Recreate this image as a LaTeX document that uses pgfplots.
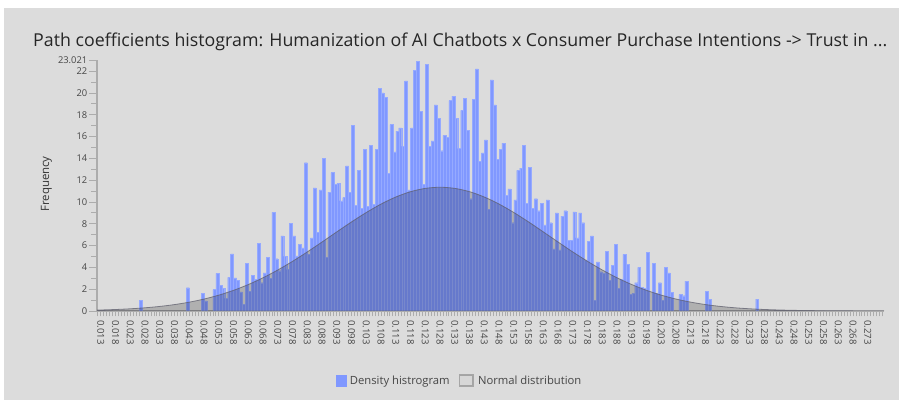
\documentclass[border=0pt]{standalone}
\usepackage{graphicx}
\usepackage{pgfplots}
\pgfplotsset{compat=1.18}
\usepackage{fontspec}
\setmainfont{Open Sans}
\definecolor{bg}{RGB}{220,220,220}
\definecolor{barblue}{RGB}{128,152,255}
\definecolor{baredge}{RGB}{150,170,255}
\definecolor{axgray}{RGB}{172,172,172}
\definecolor{txt}{RGB}{70,70,70}
\definecolor{curve}{RGB}{95,95,110}
\begin{document}
\begin{tikzpicture}[x=1bp,y=1bp]
\useasboundingbox (0bp,0bp) rectangle (903bp,409bp);
\fill[white] (0bp,0bp) rectangle (903bp,409bp);
\fill[bg] (4bp,9bp) rectangle (899bp,401bp);
\node[anchor=base west, inner sep=0, text=black!85] at (33bp,362bp) {\resizebox{854bp}{!}{\fontsize{17}{17}\selectfont Path coefficients histogram: Humanization of AI Chatbots x Consumer Purchase Intentions -> Trust in ...}};
\node[rotate=90, text=black!80, font=\fontsize{11.5}{11.5}\selectfont] at (46.5bp,225bp) {Frequency};
\begin{axis}[
  at={(97bp,98bp)}, anchor=south west, scale only axis,
  width=787bp, height=251bp,
  xmin=0.01171, xmax=0.2785, ymin=0, ymax=23.021,
  axis x line=bottom, axis y line=left,
  axis line style={-, draw=axgray},
  every outer x axis line/.append style={-},
  every outer y axis line/.append style={-},
  x axis line style={line width=2.5bp},
  y axis line style={line width=1.5bp},
  tick align=outside,
  major tick length=8bp, minor tick length=5.5bp,
  tick style={draw=axgray, line width=0.8bp},
  major x tick style={draw=none},
  xtick={0.013,0.018,0.023,0.028,0.033,0.038,0.043,0.048,0.053,0.058,0.063,0.068,0.073,0.078,0.083,0.088,0.093,0.098,0.103,0.108,0.113,0.118,0.123,0.128,0.133,0.138,0.143,0.148,0.153,0.158,0.163,0.168,0.173,0.178,0.183,0.188,0.193,0.198,0.203,0.208,0.213,0.218,0.223,0.228,0.233,0.238,0.243,0.248,0.253,0.258,0.263,0.268,0.273},
  xticklabels={0.013,0.018,0.023,0.028,0.033,0.038,0.043,0.048,0.053,0.058,0.063,0.068,0.073,0.078,0.083,0.088,0.093,0.098,0.103,0.108,0.113,0.118,0.123,0.128,0.133,0.138,0.143,0.148,0.153,0.158,0.163,0.168,0.173,0.178,0.183,0.188,0.193,0.198,0.203,0.208,0.213,0.218,0.223,0.228,0.233,0.238,0.243,0.248,0.253,0.258,0.263,0.268,0.273},
  minor xtick={0.012,0.013,...,0.2775},
  xticklabel style={rotate=-90, anchor=west, inner sep=1bp, font=\fontsize{9.6}{9.6}\selectfont, text=txt},
  ytick={0,2,4,6,8,10,12,14,16,18,20,22,23.021},
  yticklabels={0,2,4,6,8,10,12,14,16,18,20,22,23.021},
  minor ytick={1,3,5,7,9,11,13,15,17,19,21},
  yticklabel style={font=\fontsize{9.4}{9.4}\selectfont, text=txt, inner sep=1.5bp},
  legend style={at={(0.4606,-0.277)}, anchor=center, draw=none, fill=none,
    legend columns=2, font=\fontsize{11.3}{11.3}\selectfont, text=txt,
    /tikz/every even column/.append style={column sep=7bp}},
  legend cell align=left,
]
\addplot[ybar, bar width=0.001, fill=barblue, draw=baredge, line width=0.3bp,
  legend image code/.code={\fill[barblue] (0bp,-5.5bp) rectangle (10bp,5.5bp); \path (12bp,0bp);}]
table {
x y
0.0265 0.95
0.0425 2.14
0.0475 1.65
0.0485 0.92
0.0515 1.96
0.0525 3.46
0.0535 2.38
0.0545 2.1
0.0555 1.16
0.0565 3.09
0.0575 5.23
0.0585 3.03
0.0595 2.8
0.0605 1.75
0.0615 0.64
0.0625 4.37
0.0635 1.8
0.0645 3.3
0.0655 2.9
0.0665 6.2
0.0675 2.6
0.0685 3.5
0.0695 4.9
0.0705 3.0
0.0715 9.05
0.0725 4.8
0.0735 3.7
0.0745 6.9
0.0755 5.0
0.0765 3.8
0.0775 8.07
0.0785 6.9
0.0795 5.05
0.0805 6.1
0.0815 5.8
0.0825 13.6
0.0835 5.2
0.0845 6.7
0.0855 11.3
0.0865 7.2
0.0875 11.1
0.0885 14.0
0.0895 4.9
0.0905 10.9
0.0915 12.7
0.0925 11.6
0.0935 11.7
0.0945 10.1
0.0955 10.4
0.0965 13.3
0.0975 10.9
0.0985 17.0
0.0995 9.7
0.1005 12.9
0.1015 9.4
0.1025 14.8
0.1035 9.6
0.1045 15.2
0.1055 9.8
0.1065 14.8
0.1075 20.4
0.1085 20.0
0.1095 19.6
0.1105 12.6
0.1115 17.1
0.1125 14.6
0.1135 16.5
0.1145 16.8
0.1155 15.1
0.1165 21.1
0.1175 11.1
0.1185 16.8
0.1195 22.1
0.1205 22.9
0.1215 18.3
0.1225 11.6
0.1235 22.6
0.1245 15.1
0.1255 15.6
0.1265 18.9
0.1275 17.7
0.1285 14.7
0.1295 16.1
0.1305 15.9
0.1315 19.3
0.1325 19.7
0.1335 17.7
0.1345 14.9
0.1355 18.4
0.1365 19.5
0.1375 16.6
0.1385 10.3
0.1395 19.4
0.1405 22.2
0.1415 13.7
0.1425 14.5
0.1435 15.7
0.1445 9.3
0.1455 21.2
0.1465 18.9
0.1475 13.9
0.1485 14.8
0.1495 15.4
0.1505 10.6
0.1515 11.2
0.1525 8.1
0.1535 10.2
0.1545 12.9
0.1555 13.1
0.1565 15.2
0.1575 9.9
0.1585 13.2
0.1595 9.4
0.1605 10.3
0.1615 9.2
0.1625 9.9
0.1635 7.9
0.1645 10.2
0.1655 8.1
0.1665 5.7
0.1675 9.0
0.1685 5.6
0.1695 8.7
0.1705 9.2
0.1715 6.5
0.1725 6.5
0.1735 9.1
0.1745 6.7
0.1755 9.0
0.1765 8.1
0.1775 4.7
0.1785 6.4
0.1795 6.9
0.1805 1.0
0.1815 4.5
0.1825 3.6
0.1835 3.5
0.1845 5.5
0.1855 2.8
0.1865 4.2
0.1875 6.1
0.1885 2.1
0.1895 2.9
0.1905 5.2
0.1915 4.3
0.1925 1.5
0.1935 1.6
0.1945 2.6
0.1955 4.0
0.1965 2.2
0.1975 2.1
0.1985 5.4
0.2005 4.4
0.2015 1.6
0.2025 2.6
0.2035 0.95
0.2045 4.0
0.2055 3.5
0.2065 1.7
0.2095 1.5
0.2105 1.4
0.2115 2.75
0.2185 1.8
0.2195 1.1
0.2355 1.1
};
\addlegendentry{Density histrogram}
\addplot[fill=black, fill opacity=0.2, draw=curve, draw opacity=0.75, line width=0.8bp, smooth,
  legend image code/.code={\draw[fill=black!22, draw=black!42, line width=1.6bp] (0.8bp,-5.5bp) rectangle (14.2bp,5.5bp); \path (17bp,0bp);}]
coordinates {
(0.01171,0.081) (0.013,0.092) (0.018,0.137) (0.023,0.202) (0.028,0.294) (0.033,0.420)
(0.038,0.589) (0.043,0.811) (0.048,1.096) (0.053,1.455) (0.058,1.895) (0.063,2.425)
(0.068,3.048) (0.073,3.761) (0.078,4.555) (0.083,5.417) (0.088,6.328) (0.093,7.256)
(0.098,8.171) (0.103,9.034) (0.108,9.808) (0.113,10.455) (0.118,10.943) (0.123,11.247)
(0.128,11.35) (0.133,11.247) (0.138,10.943) (0.143,10.455) (0.148,9.808) (0.153,9.034)
(0.158,8.171) (0.163,7.256) (0.168,6.328) (0.173,5.417) (0.178,4.555) (0.183,3.761)
(0.188,3.048) (0.193,2.425) (0.198,1.895) (0.203,1.455) (0.208,1.096) (0.213,0.811)
(0.218,0.589) (0.223,0.420) (0.228,0.294) (0.233,0.202) (0.238,0.137) (0.243,0.091)
(0.248,0.059) (0.253,0.038) (0.258,0.024) (0.263,0.015) (0.268,0.009) (0.273,0.0055)
(0.2785,0.003)
} \closedcycle;
\addlegendentry{Normal distribution}
\end{axis}
\end{tikzpicture}
\end{document}
